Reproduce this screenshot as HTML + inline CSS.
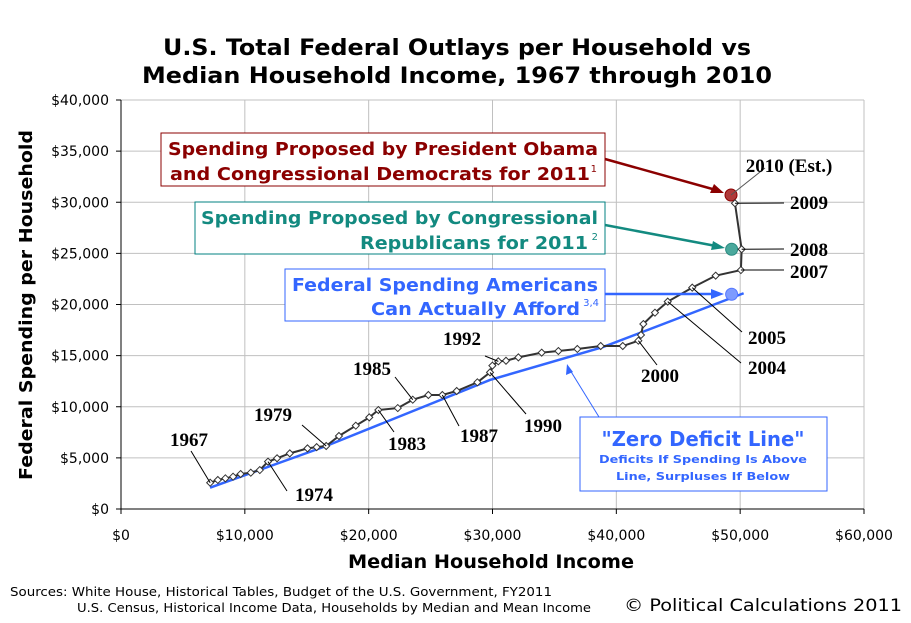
<!DOCTYPE html>
<html><head><meta charset="utf-8"><style>
html,body{margin:0;padding:0;background:#fff;width:911px;height:623px;overflow:hidden}
svg{display:block}
.t{font-family:"DejaVu Sans","Liberation Sans",sans-serif}
.yr{font-family:"Liberation Serif",serif;font-weight:bold;font-size:19px;fill:#000}
</style></head><body>
<svg id="c" width="911" height="623" viewBox="0 0 911 623" xmlns="http://www.w3.org/2000/svg">
<g class="t" font-weight="bold" font-size="22" text-anchor="middle">
<text x="457" y="55" textLength="588" lengthAdjust="spacingAndGlyphs">U.S. Total Federal Outlays per Household vs</text>
<text x="457" y="83" textLength="630" lengthAdjust="spacingAndGlyphs">Median Household Income, 1967 through 2010</text>
</g>
<g id="grid"></g>
<g id="axes"></g>
<text class="t" font-weight="bold" font-size="18" text-anchor="middle" transform="translate(32,305) rotate(-90)" textLength="350" lengthAdjust="spacingAndGlyphs">Federal Spending per Household</text>
<text class="t" font-weight="bold" font-size="19" text-anchor="middle" x="491" y="568" textLength="286" lengthAdjust="spacingAndGlyphs">Median Household Income</text>
<g id="series"></g>
<g>
<rect x="161" y="133" width="444" height="53" fill="#fff" stroke="#8b0000"/>
<text class="t" x="598" y="155" text-anchor="end" font-weight="bold" font-size="18" fill="#8b0000" textLength="430" lengthAdjust="spacingAndGlyphs">Spending Proposed by President Obama</text>
<text class="t" x="590" y="180" text-anchor="end" font-weight="bold" font-size="18" fill="#8b0000" textLength="420" lengthAdjust="spacingAndGlyphs">and Congressional Democrats for 2011</text>
<text class="t" x="597" y="172" text-anchor="end" font-size="10" fill="#8b0000">1</text>
<line x1="605" y1="159" x2="716" y2="190" stroke="#8b0000" stroke-width="2.5"/>
<polygon points="724,193 710,193 714,184" fill="#8b0000"/>
</g>
<g>
<rect x="195" y="202" width="410" height="52" fill="#fff" stroke="#008080"/>
<text class="t" x="598" y="224" text-anchor="end" font-weight="bold" font-size="18" fill="#138a80" textLength="397" lengthAdjust="spacingAndGlyphs">Spending Proposed by Congressional</text>
<text class="t" x="588" y="249" text-anchor="end" font-weight="bold" font-size="18" fill="#138a80" textLength="228" lengthAdjust="spacingAndGlyphs">Republicans for 2011</text>
<text class="t" x="598" y="240" text-anchor="end" font-size="10" fill="#138a80">2</text>
<line x1="605" y1="225" x2="716" y2="246" stroke="#138a80" stroke-width="2.5"/>
<polygon points="725,248 711,250 713,241" fill="#138a80"/>
</g>
<g>
<rect x="285" y="269" width="320" height="52" fill="#fff" stroke="#3366ff"/>
<text class="t" x="598" y="291" text-anchor="end" font-weight="bold" font-size="18" fill="#3366ff" textLength="306" lengthAdjust="spacingAndGlyphs">Federal Spending Americans</text>
<text class="t" x="580" y="315" text-anchor="end" font-weight="bold" font-size="18" fill="#3366ff" textLength="209" lengthAdjust="spacingAndGlyphs">Can Actually Afford</text>
<text class="t" x="599" y="306" text-anchor="end" font-size="10" fill="#3366ff">3,4</text>
<line x1="605" y1="294" x2="715" y2="294" stroke="#3366ff" stroke-width="2.5"/>
<polygon points="724,294 711,289 711,299" fill="#3366ff"/>
</g>
<g>
<line x1="599" y1="417" x2="570" y2="370" stroke="#3366ff" stroke-width="1"/>
<polygon points="567,364 566,375 573,372" fill="#3366ff"/>
<rect x="580" y="417" width="247" height="74" fill="#fff" stroke="#3366ff"/>
<text class="t" x="703" y="446" text-anchor="middle" font-weight="bold" font-size="20" fill="#3366ff" textLength="203" lengthAdjust="spacingAndGlyphs">"Zero Deficit Line"</text>
<text class="t" x="703" y="463" text-anchor="middle" font-weight="bold" font-size="11" fill="#3366ff" textLength="208" lengthAdjust="spacingAndGlyphs">Deficits If Spending Is Above</text>
<text class="t" x="703" y="480" text-anchor="middle" font-weight="bold" font-size="11" fill="#3366ff" textLength="174" lengthAdjust="spacingAndGlyphs">Line, Surpluses If Below</text>
</g>
<g id="labels"></g>
<g class="t" font-size="12" fill="#000">
<text x="10" y="596" textLength="542" lengthAdjust="spacingAndGlyphs">Sources: White House, Historical Tables, Budget of the U.S. Government, FY2011</text>
<text x="77" y="612" textLength="514" lengthAdjust="spacingAndGlyphs">U.S. Census, Historical Income Data, Households by Median and Mean Income</text>
</g>
<text class="t" x="902" y="611" text-anchor="end" font-size="17" textLength="278" lengthAdjust="spacingAndGlyphs">© Political Calculations 2011</text>
</svg>
<script>
const years=[1967,1968,1969,1970,1971,1972,1973,1974,1975,1976,1977,1978,1979,1980,1981,1982,1983,1984,1985,1986,1987,1988,1989,1990,1991,1992,1993,1994,1995,1996,1997,1998,1999,2000,2001,2002,2003,2004,2005,2006,2007,2008,2009];
const income=[7200,7820,8430,9050,9660,10480,11210,11870,12600,13630,15060,15800,16570,17600,18960,20050,20780,22350,23560,24820,25950,27110,28780,29800,29990,30470,31090,32090,33970,35320,36850,38740,40520,41780,41990,42180,43120,44150,46130,48020,50060,50120,49580];
const spending=[2570,2840,3000,3160,3420,3550,3810,4630,4960,5440,5930,6050,6160,7140,8150,8960,9680,9870,10690,11150,11150,11540,12390,13360,14020,14440,14500,14830,15290,15450,15650,15940,15940,16460,17020,18090,19200,20280,21650,22820,23370,25400,29900];
const est2010Income=49260;
const est2010Spending=30710;
const zeroIncome=[7190,16570,29800,38920,50280];
const zeroSpending=[2080,6160,12620,15840,21100];
const proposals=[{name:'obama-2011',inc:49260,val:30710,fill:'#b03a3a',stroke:'#8b0000'},{name:'republican-2011',inc:49310,val:25400,fill:'#4aa89c',stroke:'#2a8a80'},{name:'affordable-2011',inc:49310,val:21000,fill:'#7d9bff',stroke:'#5577ff'}];
const xTicks=[0,10000,20000,30000,40000,50000,60000];
const yTicks=[0,5000,10000,15000,20000,25000,30000,35000,40000];
const NS='http://www.w3.org/2000/svg';
const X=v=>121+v/60000*743, Y=v=>509-v/40000*409;
function mk(t,a,p){const e=document.createElementNS(NS,t);for(const k in a)e.setAttribute(k,a[k]);p.appendChild(e);return e;}
const fmt=v=>'$'+v.toLocaleString('en-US');
const grid=document.getElementById('grid'),axes=document.getElementById('axes');
xTicks.forEach(v=>{if(v>0){const l=mk('line',{x1:X(v),x2:X(v),y1:Y(40000),y2:Y(0),stroke:'#c0c0c0'},grid);

}
const t=mk('text',{x:X(v),y:540,'text-anchor':'middle','font-size':'14',class:'t'},axes);t.textContent=fmt(v);


mk('line',{x1:X(v),x2:X(v),y1:509,y2:514,stroke:'#000'},axes);});
yTicks.forEach(v=>{if(v>0){const l=mk('line',{x1:121,x2:864,y1:Y(v),y2:Y(v),stroke:'#c0c0c0'},grid);

}
const t=mk('text',{x:109,y:Y(v)+5,'text-anchor':'end','font-size':'14',class:'t'},axes);t.textContent=fmt(v);


mk('line',{x1:116,x2:121,y1:Y(v),y2:Y(v),stroke:'#000'},axes);});
mk('line',{x1:121,x2:121,y1:100,y2:509,stroke:'#000'},axes);
mk('line',{x1:121,x2:864,y1:509,y2:509,stroke:'#000'},axes);
const s=document.getElementById('series');
const zl=mk('polyline',{points:zeroIncome.map((v,i)=>X(v)+','+Y(zeroSpending[i])).join(' '),fill:'none',stroke:'#3366ff','stroke-width':2.5},s);


const pts=income.map((v,i)=>X(v)+','+Y(spending[i]));
pts.push(X(est2010Income)+','+Y(est2010Spending));
const sl=mk('polyline',{points:pts.join(' '),fill:'none',stroke:'#333','stroke-width':2},s);


proposals.forEach(p=>{const c=mk('circle',{cx:X(p.inc),cy:Y(p.val),r:6,fill:p.fill,stroke:p.stroke,'stroke-width':1},s);

});
income.forEach((v,i)=>{const x=X(v),y=Y(spending[i]);
const d=mk('polygon',{points:`${x},${y-3.5} ${x+3.5},${y} ${x},${y+3.5} ${x-3.5},${y}`,fill:'#fff',stroke:'#333','stroke-width':1},s);

});
const lab=[['1967',189,446,191,451],['1974',314,501,287,491],['1979',273,421,302,425],['1985',372,375,395,377],['1983',407,450,394,432],['1987',479,442,459,426],['1990',543,432,526,414],['1992',462,345,485,356],['2000',660,382,657,365],['2004',767,374,741,363],['2005',767,344,742,332],['2007',809,278,784,270],['2008',809,256,784,249],['2009',809,209,784,203]];
const L=document.getElementById('labels');
lab.forEach(a=>{const yr=a[0],i=years.indexOf(+yr);const px=X(income[i]),py=Y(spending[i]);
mk('line',{x1:a[3],y1:a[4],x2:px,y2:py,stroke:'#000','stroke-width':1},L);
const t=mk('text',{x:a[1],y:a[2],'text-anchor':'middle',class:'yr'},L);t.textContent=yr;

});
mk('line',{x1:765,y1:168,x2:X(est2010Income),y2:Y(est2010Spending),stroke:'#555'},L);
const e=mk('text',{x:789,y:172,'text-anchor':'middle',class:'yr'},L);e.textContent='2010 (Est.)';


</script>
</body></html>
